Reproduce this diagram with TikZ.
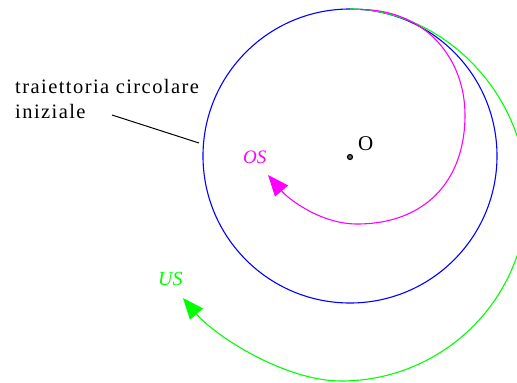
\documentclass[tikz,border=0pt]{standalone}
\usepackage{fontspec}
\setmainfont{Liberation Serif}
\usetikzlibrary{arrows.meta}
\definecolor{cblue}{RGB}{0,0,255}
\definecolor{cgreen}{RGB}{0,255,0}
\definecolor{cmag}{RGB}{255,0,255}
\begin{document}
\begin{tikzpicture}[x=1pt,y=-1pt,
  orbit/.style={line width=1.1pt},
  lbl/.style={inner sep=0pt, anchor=base west},
  tri/.style={-{Triangle[length=21pt,width=17pt]}}]
\useasboundingbox (0,0) rectangle (517,383);
\clip (0,0) rectangle (517,383);
\fill[white] (0,0) rectangle (517,383);
% initial circular trajectory
\coordinate (O) at (350,156);
\draw[orbit, cblue] (O) circle[radius=147pt];
% green (US) orbit
\coordinate (g0) at (350,9);
\coordinate (g1) at (527,196);
\coordinate (g2) at (341,381);
\coordinate (g3) at (183,298);
\draw[orbit, cgreen, tri] (g0) .. controls (442,9) and (527,93) .. (g1)
  .. controls (527,298) and (444,381) .. (g2)
  .. controls (285,381) and (215,336) .. (g3);
% magenta (OS) orbit
\coordinate (m0) at (360,9.5);
\coordinate (m1) at (465,115);
\coordinate (m2) at (357,224);
\coordinate (m3) at (268,175);
\draw[orbit, cmag, tri] (m0) .. controls (425,9.5) and (465,58) .. (m1)
  .. controls (465,182) and (424,224) .. (m2)
  .. controls (320,224) and (287.5,198) .. (m3);
% centre
\node[circle, draw, line width=1.2pt, fill=black!60, inner sep=0pt, minimum size=5pt] (dot) at (350,157) {};
\node[lbl, font=\fontsize{21}{25}\selectfont] (Olab) at (358,150) {O};
% labels
\node[lbl, text=cmag, font=\fontsize{19}{23}\selectfont\itshape] (OS) at (243,163) {OS};
\node[lbl, text=cgreen, font=\fontsize{20}{23}\selectfont\itshape] (US) at (158,285) {US};
\node[lbl, font=\fontsize{20.5}{25}\selectfont\addfontfeature{LetterSpace=7}] (t1) at (15,93) {traiettoria circolare};
\node[lbl, font=\fontsize{20.5}{25}\selectfont\addfontfeature{LetterSpace=7}] (t2) at (15,118) {iniziale};
\coordinate (la) at (112,115);
\coordinate (lb) at (199,143);
\draw[line width=1pt] (la) -- (lb);
\end{tikzpicture}
\end{document}
